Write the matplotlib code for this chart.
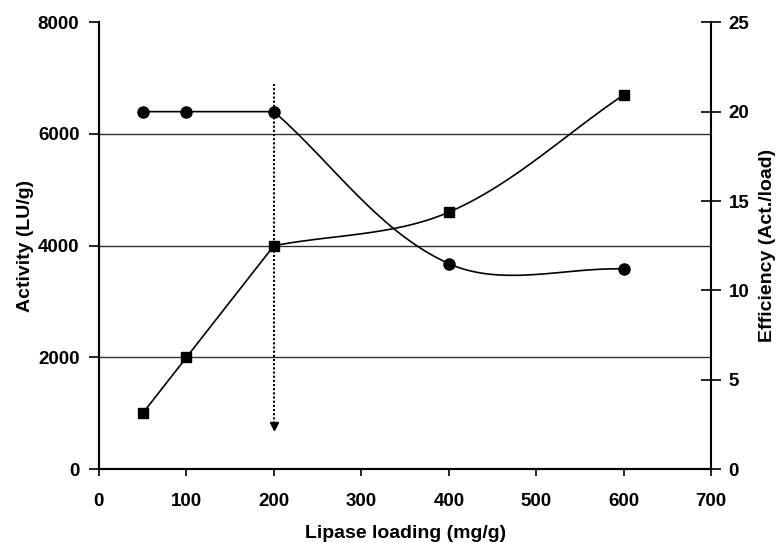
import numpy as np
import matplotlib
matplotlib.use('Agg')
import matplotlib.pyplot as plt

plt.rcParams['font.family'] = ['Liberation Sans', 'DejaVu Sans']
plt.rcParams['font.weight'] = 'bold'

# data
loading = [50, 100, 200, 400, 600]
activity = [1000, 2000, 4000, 4600, 6700]
efficiency = [20, 20, 20, 11.5, 11.2]

# first points are joined with straight lines, the rest is smoothed
corner = 2

# dotted marker line at the optimum loading
arrow_x = 200
arrow_top = 6900
arrow_bottom = 700


def smooth_line(a, x, y, start, n=60):
    """Straight segments up to `start`, Excel-like bezier after it.
    Control points are built in screen space so the curve looks right."""
    pts = a.transData.transform(np.column_stack([x, y]))
    out = [p for p in pts[:start + 1]]
    sub = pts[start:]
    m = len(sub)
    tang = []
    for i in range(m):
        if i == 0:
            d = sub[1] - sub[0]
        elif i == m - 1:
            d = sub[-1] - sub[-2]
        else:
            d = sub[i + 1] - sub[i - 1]
        tang.append(d / np.hypot(*d))
    t = np.linspace(0, 1, n)[1:, None]
    for i in range(m - 1):
        p0, p3 = sub[i], sub[i + 1]
        seg = np.hypot(*(p3 - p0)) / 3
        c1 = p0 + tang[i] * seg
        c2 = p3 - tang[i + 1] * seg
        b = ((1 - t) ** 3 * p0 + 3 * (1 - t) ** 2 * t * c1
             + 3 * (1 - t) * t ** 2 * c2 + t ** 3 * p3)
        out.extend(b)
    res = a.transData.inverted().transform(np.array(out))
    return res[:, 0], res[:, 1]


fig = plt.figure(figsize=(7.79, 5.43), dpi=100)
ax = fig.add_axes([0.127, 0.136, 0.786, 0.823])
ax2 = ax.twinx()

ax.set_xlim(0, 700)
ax.set_ylim(0, 8000)
ax2.set_ylim(0, 25)
ax.set_xticks(range(0, 701, 100))
ax.set_yticks(range(0, 8001, 2000))
ax2.set_yticks(range(0, 26, 5))

for v in [2000, 4000, 6000]:
    ax.axhline(v, color='#333333', lw=1.0, zorder=0)

sx, sy = smooth_line(ax, loading, activity, corner)
ax.plot(sx, sy, '-k', lw=1.2)
ax.plot(loading, activity, 'sk', ms=7.5)

ex, ey = smooth_line(ax2, loading, efficiency, corner)
ax2.plot(ex, ey, '-k', lw=1.2)
ax2.plot(loading, efficiency, 'ok', ms=8)

ax.plot([arrow_x, arrow_x], [arrow_top, arrow_bottom + 120], color='k',
        ls=(0, (1, 1)), lw=1.5)
ax.plot([arrow_x], [arrow_bottom + 70], marker='v', color='k', ms=6)

for a in (ax, ax2):
    a.spines['top'].set_visible(False)
    for s in a.spines.values():
        s.set_linewidth(1.5)
ax.spines['right'].set_visible(False)
ax.tick_params(axis='x', direction='out', length=5, width=1.2,
               labelsize=13.5, pad=12)
ax.tick_params(axis='y', direction='out', length=7, width=1.2,
               labelsize=13.5, pad=7)
ax2.tick_params(axis='y', direction='inout', length=15, width=1.2,
                labelsize=13.5, pad=5)

ax.set_xlabel('Lipase loading (mg/g)', fontsize=14, fontweight='bold',
              labelpad=11)
ax.set_ylabel('Activity (LU/g)', fontsize=14, fontweight='bold',
              labelpad=3)
ax2.set_ylabel('Efficiency (Act./load)', fontsize=14, fontweight='bold',
               labelpad=7)

fig.savefig('out.png', dpi=100)
